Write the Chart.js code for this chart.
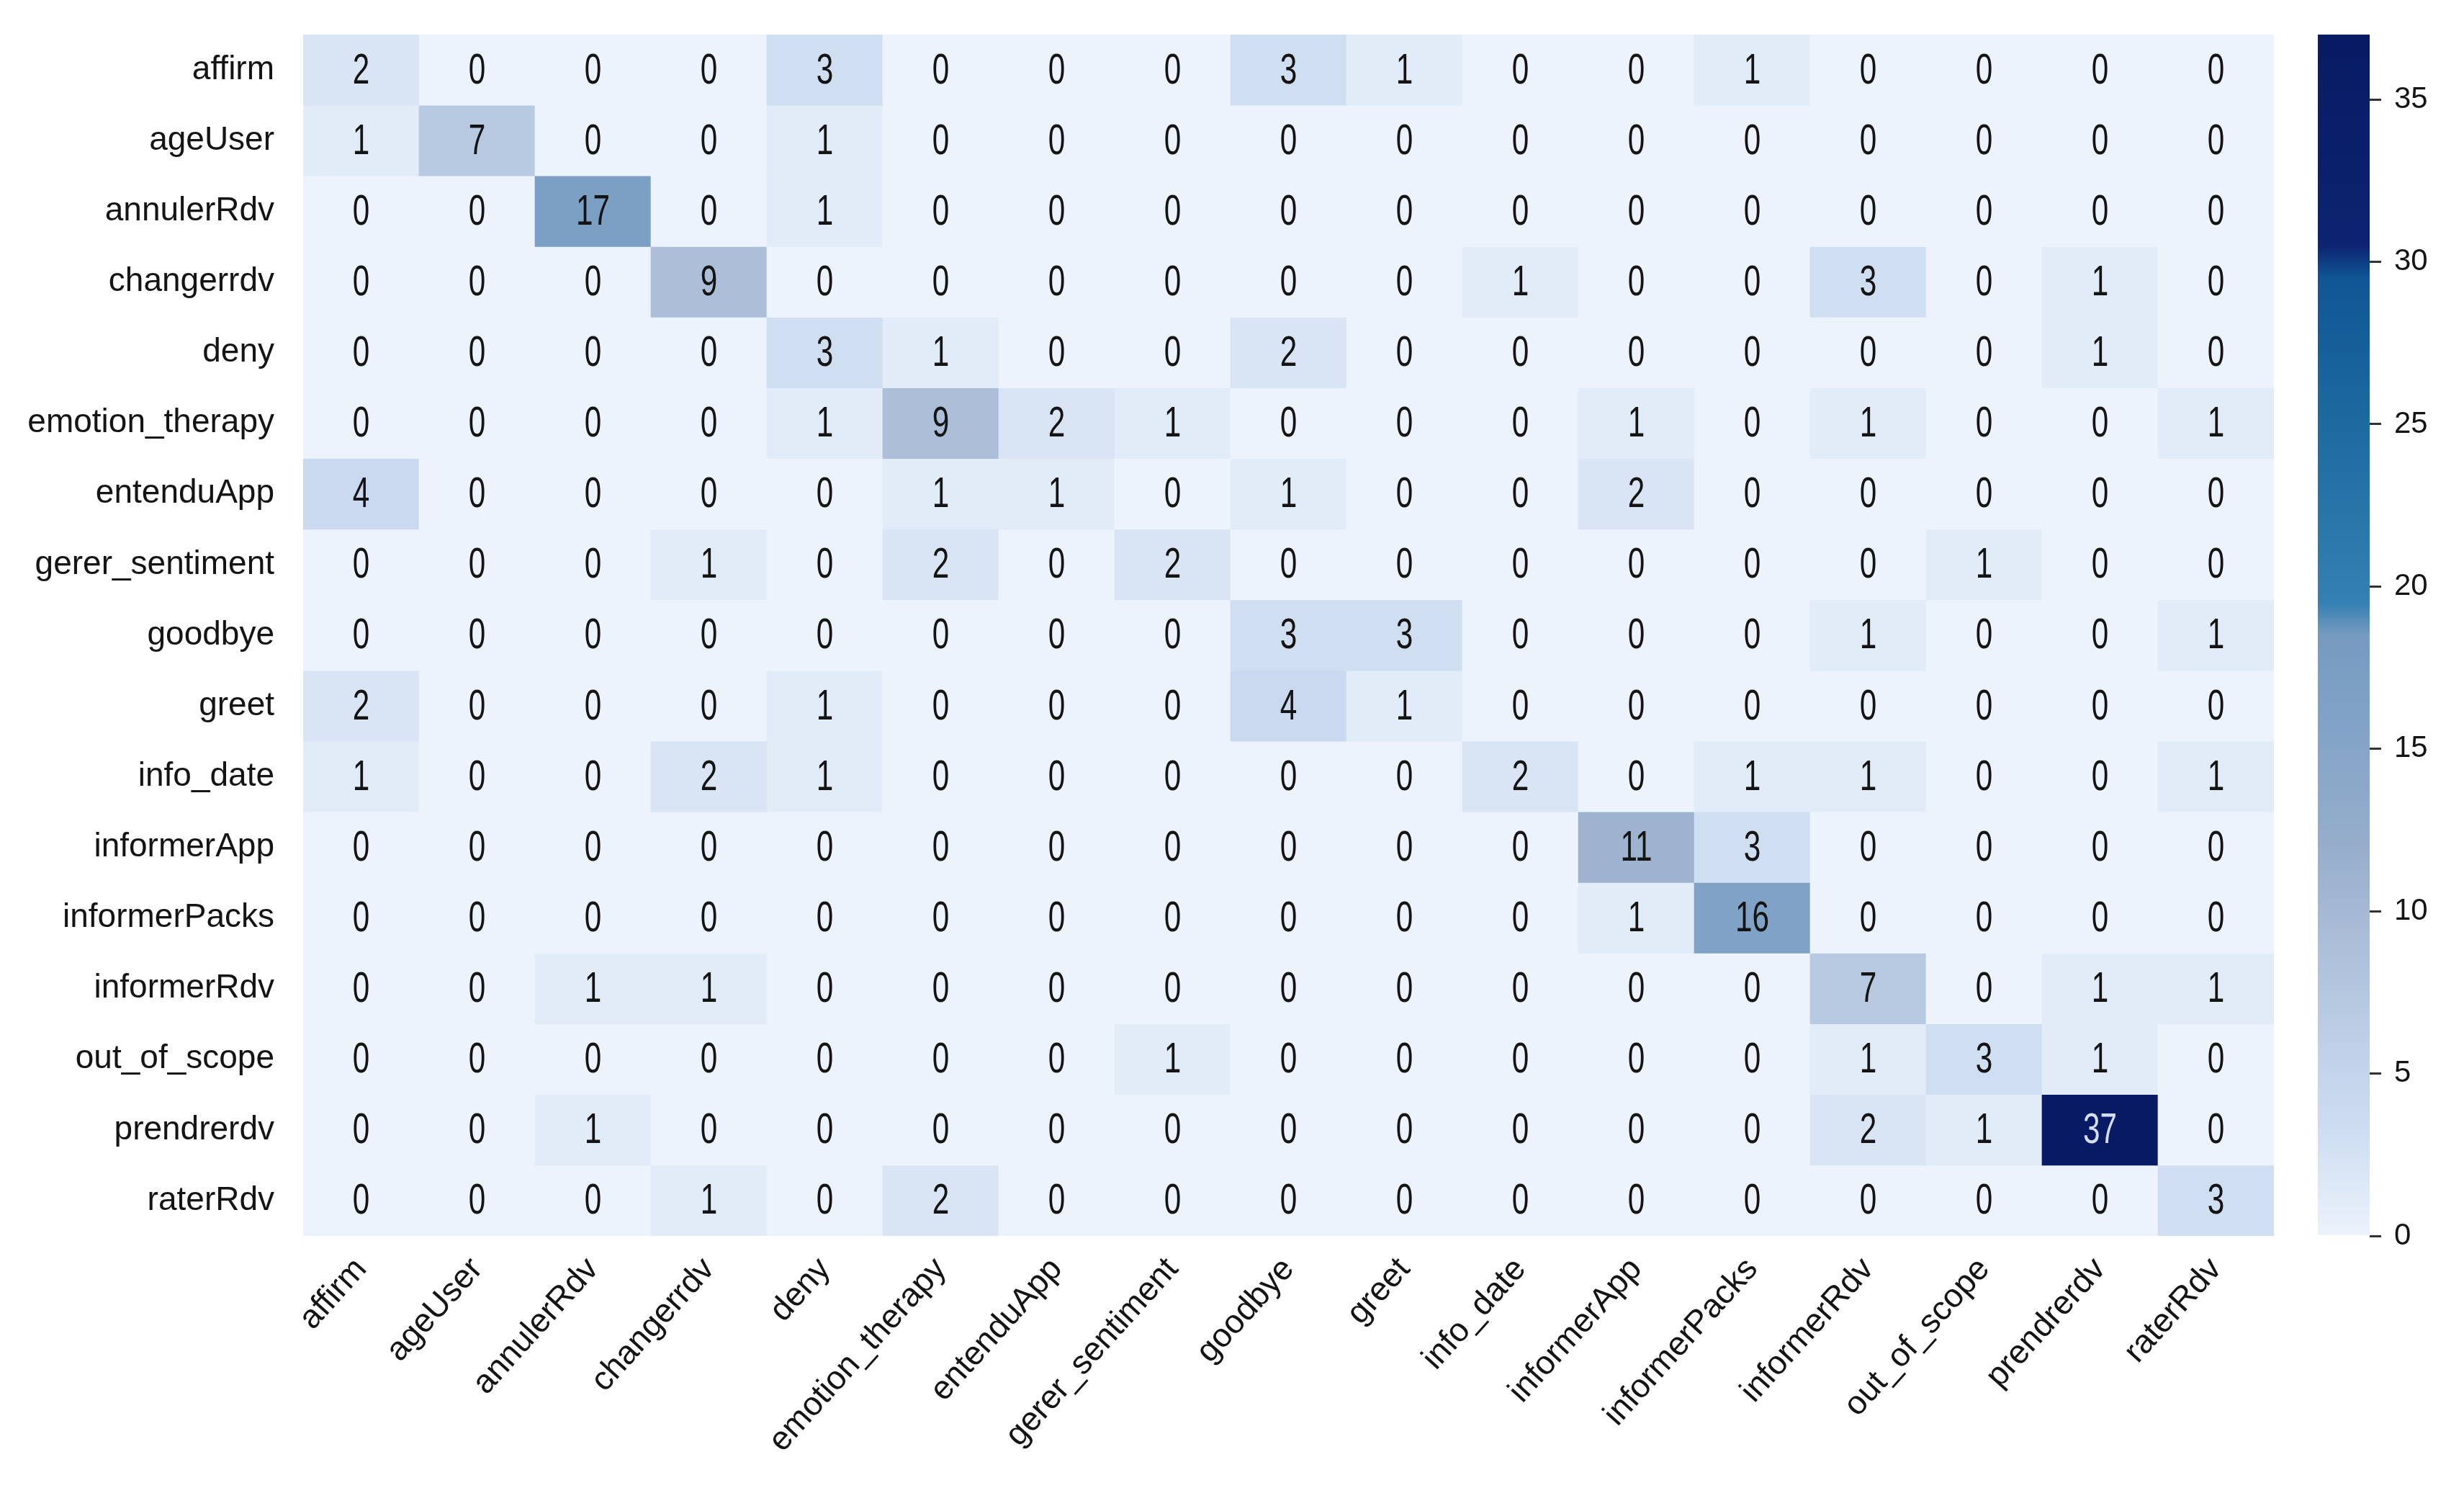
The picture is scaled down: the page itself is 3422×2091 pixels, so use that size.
<!DOCTYPE html>
<html>
<head>
<meta charset="utf-8">
<script src="https://cdn.jsdelivr.net/npm/chart.js@4/dist/chart.umd.min.js"></script>
<style>
  html, body { margin: 0; padding: 0; background: #fff; }
  #wrap { position: relative; width: 3422px; height: 2091px; }
  #heat { position: absolute; left: 0; top: 0; }
  #bar { position: absolute; left: 3180px; top: 0; }
</style>
</head>
<body>
<div id="wrap">
  <canvas id="heat" width="3180" height="2091"></canvas>
  <canvas id="bar" width="242" height="2091"></canvas>
</div>
<script>
const intents = ['affirm', 'ageUser', 'annulerRdv', 'changerrdv', 'deny', 'emotion_therapy',
  'entenduApp', 'gerer_sentiment', 'goodbye', 'greet', 'info_date', 'informerApp',
  'informerPacks', 'informerRdv', 'out_of_scope', 'prendrerdv', 'raterRdv'];

// rows = true intent, columns = predicted intent
const confusion = [
  [2, 0, 0, 0, 3, 0, 0, 0, 3, 1, 0, 0, 1, 0, 0, 0, 0],
  [1, 7, 0, 0, 1, 0, 0, 0, 0, 0, 0, 0, 0, 0, 0, 0, 0],
  [0, 0, 17, 0, 1, 0, 0, 0, 0, 0, 0, 0, 0, 0, 0, 0, 0],
  [0, 0, 0, 9, 0, 0, 0, 0, 0, 0, 1, 0, 0, 3, 0, 1, 0],
  [0, 0, 0, 0, 3, 1, 0, 0, 2, 0, 0, 0, 0, 0, 0, 1, 0],
  [0, 0, 0, 0, 1, 9, 2, 1, 0, 0, 0, 1, 0, 1, 0, 0, 1],
  [4, 0, 0, 0, 0, 1, 1, 0, 1, 0, 0, 2, 0, 0, 0, 0, 0],
  [0, 0, 0, 1, 0, 2, 0, 2, 0, 0, 0, 0, 0, 0, 1, 0, 0],
  [0, 0, 0, 0, 0, 0, 0, 0, 3, 3, 0, 0, 0, 1, 0, 0, 1],
  [2, 0, 0, 0, 1, 0, 0, 0, 4, 1, 0, 0, 0, 0, 0, 0, 0],
  [1, 0, 0, 2, 1, 0, 0, 0, 0, 0, 2, 0, 1, 1, 0, 0, 1],
  [0, 0, 0, 0, 0, 0, 0, 0, 0, 0, 0, 11, 3, 0, 0, 0, 0],
  [0, 0, 0, 0, 0, 0, 0, 0, 0, 0, 0, 1, 16, 0, 0, 0, 0],
  [0, 0, 1, 1, 0, 0, 0, 0, 0, 0, 0, 0, 0, 7, 0, 1, 1],
  [0, 0, 0, 0, 0, 0, 0, 1, 0, 0, 0, 0, 0, 1, 3, 1, 0],
  [0, 0, 1, 0, 0, 0, 0, 0, 0, 0, 0, 0, 0, 2, 1, 37, 0],
  [0, 0, 0, 1, 0, 2, 0, 0, 0, 0, 0, 0, 0, 0, 0, 0, 3]
];

const vmin = 0;
const vmax = 37;
const colorbarTicks = [0, 5, 10, 15, 20, 25, 30, 35];

// colour map stops [value, r, g, b]
const cmap = [
  [0, 236, 243, 252],
  [1, 226, 236, 248],
  [3, 208, 222, 242],
  [5, 196, 212, 236],
  [9, 172, 190, 216],
  [12, 150, 174, 204],
  [16, 128, 162, 198],
  [18.5, 118, 155, 192],
  [19.5, 52, 128, 180],
  [25, 28, 106, 160],
  [29.5, 16, 86, 148],
  [30.5, 12, 36, 112],
  [37, 8, 26, 100]
];

function colourFor(v) {
  for (let i = 1; i < cmap.length; i++) {
    if (v <= cmap[i][0]) {
      const a = cmap[i - 1], b = cmap[i];
      const t = (v - a[0]) / (b[0] - a[0]);
      const c = [1, 2, 3].map(k => Math.round(a[k] + (b[k] - a[k]) * t));
      return `rgb(${c[0]},${c[1]},${c[2]})`;
    }
  }
  const l = cmap[cmap.length - 1];
  return `rgb(${l[1]},${l[2]},${l[3]})`;
}

const FAMILY = '"Liberation Sans", Arial, sans-serif';
const FONT = { family: FAMILY, size: 46 };

// the numbers in the picture look tall and narrow, so stretch them a bit
const cellText = {
  id: 'cellText',
  afterDatasetsDraw(chart) {
    const ctx = chart.ctx;
    ctx.save();
    ctx.font = `${FONT.size}px ${FAMILY}`;
    ctx.textAlign = 'center';
    ctx.textBaseline = 'middle';
    chart.data.datasets.forEach((ds, r) => {
      chart.getDatasetMeta(r).data.forEach((bar, c) => {
        const v = confusion[r][c];
        const p = bar.getProps(['x', 'y', 'base'], true);
        ctx.save();
        ctx.translate(p.x, (p.y + p.base) / 2 + 2);
        ctx.scale(0.92, 1.3);
        ctx.fillStyle = v > 25 ? '#d4dcf0' : '#141414';
        ctx.fillText(String(v), 0, 0);
        ctx.restore();
      });
    });
    ctx.restore();
  }
};

new Chart(document.getElementById('heat'), {
  type: 'bar',
  data: {
    labels: intents,
    datasets: confusion.map((row, r) => ({
      label: intents[r],
      data: row.map(() => [r, r + 1]),
      backgroundColor: row.map(v => colourFor(v)),
      borderWidth: 0,
      barPercentage: 1,
      categoryPercentage: 1,
      grouped: false
    }))
  },
  options: {
    responsive: false,
    animation: false,
    layout: { padding: { left: 0, right: 22, top: 48, bottom: 0 } },
    plugins: { legend: { display: false }, tooltip: { enabled: false } },
    scales: {
      x: {
        grid: { display: false },
        border: { display: false },
        ticks: {
          autoSkip: false,
          minRotation: 48,
          maxRotation: 48,
          padding: 12,
          color: '#141414',
          font: FONT
        },
        afterFit: axis => {
          axis.height = 375;
          axis.paddingLeft = 0;
          axis.paddingRight = 0;
        }
      },
      y: {
        type: 'linear',
        min: 0,
        max: intents.length,
        reverse: true,
        grid: { display: false },
        border: { display: false },
        afterBuildTicks: axis => {
          axis.ticks = intents.map((_, i) => ({ value: i + 0.5 }));
        },
        ticks: {
          autoSkip: false,
          padding: 32,
          color: '#141414',
          font: FONT,
          callback: value => intents[Math.floor(value)]
        },
        afterFit: axis => {
          axis.width = 421;
          axis.paddingTop = 0;
          axis.paddingBottom = 0;
        }
      }
    }
  },
  plugins: [cellText]
});

new Chart(document.getElementById('bar'), {
  type: 'bar',
  data: {
    labels: [''],
    datasets: [{
      data: [[vmin, vmax]],
      borderWidth: 0,
      barPercentage: 1,
      categoryPercentage: 1,
      backgroundColor: context => {
        const area = context.chart.chartArea;
        if (!area) return colourFor(vmin);
        const scale = context.chart.scales.y;
        const g = context.chart.ctx.createLinearGradient(0, scale.getPixelForValue(vmin), 0, scale.getPixelForValue(vmax));
        cmap.forEach(s => g.addColorStop((s[0] - vmin) / (vmax - vmin), colourFor(s[0])));
        return g;
      }
    }]
  },
  options: {
    responsive: false,
    animation: false,
    layout: { padding: { left: 39, right: 0, top: 48, bottom: 375 } },
    plugins: { legend: { display: false }, tooltip: { enabled: false } },
    scales: {
      x: { display: false },
      y: {
        position: 'right',
        min: vmin,
        max: vmax,
        border: { display: false },
        grid: { drawOnChartArea: false, drawTicks: true, tickLength: 16, color: '#333', lineWidth: 3 },
        afterBuildTicks: axis => {
          axis.ticks = colorbarTicks.map(v => ({ value: v }));
        },
        ticks: { padding: 18, color: '#141414', font: { family: FAMILY, size: 42 } },
        afterFit: axis => {
          axis.width = 131;
          axis.paddingTop = 0;
          axis.paddingBottom = 0;
        }
      }
    }
  }
});
</script>
</body>
</html>
